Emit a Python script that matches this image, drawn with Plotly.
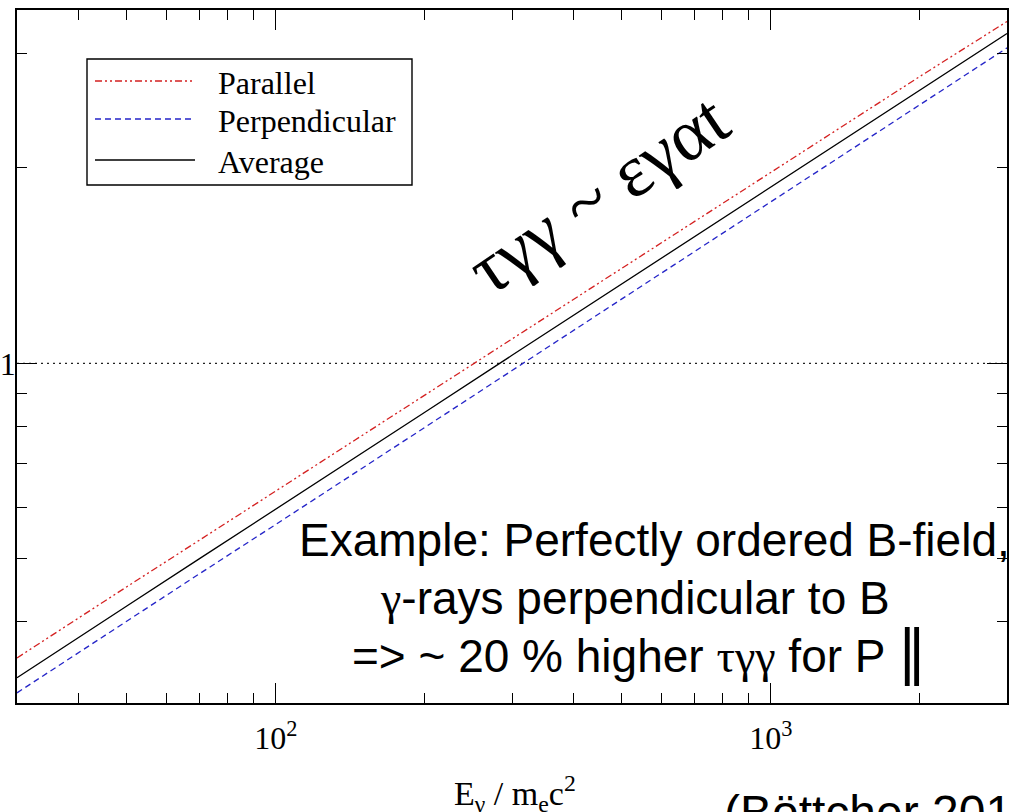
import numpy as np
import plotly.graph_objects as go

# Photon energy grid (E_gamma / m_e c^2)
energy = [30, 40, 50, 70, 100, 150, 200, 300, 500, 700, 1000, 1500, 2000, 3000]

# Optical depth tau_gamma-gamma for the two polarisation states and their mean
tau_parallel = [0.352, 0.406, 0.453, 0.534, 0.636, 0.776, 0.894, 1.090, 1.400,
                1.651, 1.967, 2.400, 2.765, 3.360]
tau_perpendicular = [0.311, 0.359, 0.401, 0.474, 0.565, 0.692, 0.797, 0.975, 1.255,
                     1.483, 1.773, 2.168, 2.500, 3.060]
tau_average = [0.328, 0.379, 0.423, 0.500, 0.596, 0.730, 0.841, 1.029, 1.326,
               1.567, 1.871, 2.287, 2.636, 3.220]

x_range = [30, 3000]
y_range = [0.3, 3.5]
x_major = [100, 1000]
x_major_text = ["10<sup>2</sup>", "10<sup>3</sup>"]
x_minor = [40, 50, 60, 70, 80, 90, 200, 300, 400, 500, 600, 700, 800, 900, 2000]
y_major = [1]
y_major_text = ["1"]
y_minor = [0.4, 0.5, 0.6, 0.7, 0.8, 0.9, 2, 3]

legend_names = ["Parallel", "Perpendicular", "Average"]

W, H = 1017, 812
L, R, T, B = 17, 10, 10, 109
PW, PH = W - L - R, H - T - B

SERIF = "Liberation Serif"
SANS = "Liberation Sans"

styles = {
    "Parallel": dict(color="#d42020", width=1.3, dash="7px,3px,2px,3px,2px,3px"),
    "Perpendicular": dict(color="#2525c8", width=1.3, dash="6px,4px"),
    "Average": dict(color="#000000", width=1.3, dash="solid"),
}


def px(xp):
    return (xp - L) / PW


def py(yp):
    return (H - B - yp) / PH


fig = go.Figure()

# reference level tau = 1
fig.add_trace(go.Scatter(x=x_range, y=[1, 1], mode="lines",
                         line=dict(color="#222222", width=1.2, dash="2px,4px"),
                         showlegend=False, hoverinfo="skip"))

series = {"Parallel": tau_parallel, "Perpendicular": tau_perpendicular,
          "Average": tau_average}
for name in legend_names:
    fig.add_trace(go.Scatter(x=energy, y=series[name], mode="lines", name=name,
                             line=styles[name], showlegend=False))

axis_common = dict(
    type="log", showgrid=False, zeroline=False, showline=True,
    linecolor="black", linewidth=1.6, mirror="allticks",
    ticks="inside", ticklen=20, tickwidth=1.4, tickcolor="black",
    tickfont=dict(family=SERIF, size=32, color="black"),
    automargin=False,
)

fig.update_xaxes(
    **axis_common,
    range=[np.log10(x_range[0]), np.log10(x_range[1])],
    tickmode="array", tickvals=x_major, ticktext=x_major_text,
    ticklabelstandoff=6,
    minor=dict(tickvals=x_minor, ticks="inside", ticklen=10, tickwidth=1.4,
               tickcolor="black", showgrid=False),
)
fig.update_yaxes(
    **axis_common,
    range=[np.log10(y_range[0]), np.log10(y_range[1])],
    tickmode="array", tickvals=y_major, ticktext=y_major_text,
    ticklabelstandoff=-7,
    minor=dict(tickvals=y_minor, ticks="inside", ticklen=10, tickwidth=1.4,
               tickcolor="black", showgrid=False),
)

shapes = []
annotations = []

# legend box
shapes.append(dict(type="rect", xref="paper", yref="paper",
                   x0=px(87), x1=px(412), y0=py(185), y1=py(59),
                   line=dict(color="black", width=1.4), fillcolor="white",
                   layer="above"))
rows = [81, 119, 160]
for name, yrow in zip(legend_names, rows):
    st = styles[name]
    shapes.append(dict(type="line", xref="paper", yref="paper",
                       x0=px(95), x1=px(195), y0=py(yrow), y1=py(yrow),
                       line=dict(color=st["color"], width=st["width"], dash=st["dash"]),
                       layer="above"))
    annotations.append(dict(text=name, xref="paper", yref="paper",
                            x=px(216), y=py(yrow + 2), xanchor="left", yanchor="middle",
                            showarrow=False,
                            font=dict(family=SERIF, size=32, color="black")))

# axis title
annotations.append(dict(text="E<sub>γ</sub> / m<sub>e</sub>c<sup>2</sup>",
                        xref="paper", yref="paper", x=px(515), y=py(768),
                        xanchor="center", yanchor="top", showarrow=False,
                        font=dict(family=SERIF, size=34, color="black")))

# scaling law along the curves
annotations.append(dict(text="τγγ ~ εγαt", xref="paper", yref="paper",
                        x=px(598), y=py(194), xanchor="center", yanchor="middle",
                        textangle=-34, showarrow=False,
                        font=dict(family=SERIF, size=74, color="black")))

# example description
annotations.append(dict(text="Example: Perfectly ordered B-field,",
                        xref="paper", yref="paper", x=px(297), y=py(540),
                        xanchor="left", yanchor="middle", showarrow=False,
                        font=dict(family=SANS, size=46, color="black")))
annotations.append(dict(text=f"<span style='font-family:{SERIF}'>γ</span>-rays perpendicular to B",
                        xref="paper", yref="paper", x=px(635), y=py(598),
                        xanchor="center", yanchor="middle", showarrow=False,
                        font=dict(family=SANS, size=46, color="black")))
annotations.append(dict(text=(f"=> ~ 20 % higher <span style='font-family:{SERIF}'>τγγ</span>"
                              " for P <span style='font-family:DejaVu Sans;font-size:58px'>‖</span>"),
                        xref="paper", yref="paper", x=px(639), y=py(652),
                        xanchor="center", yanchor="middle", showarrow=False,
                        font=dict(family=SANS, size=46, color="black")))

# citation
annotations.append(dict(text="(Böttcher 2014)", xref="paper", yref="paper",
                        x=px(722), y=py(784), xanchor="left", yanchor="top",
                        showarrow=False,
                        font=dict(family=SANS, size=48, color="black")))

fig.update_layout(
    width=W, height=H,
    margin=dict(l=L, r=R, t=T, b=B, pad=0),
    paper_bgcolor="white", plot_bgcolor="white",
    showlegend=False,
    shapes=shapes, annotations=annotations,
)

fig.write_html("out.html")
